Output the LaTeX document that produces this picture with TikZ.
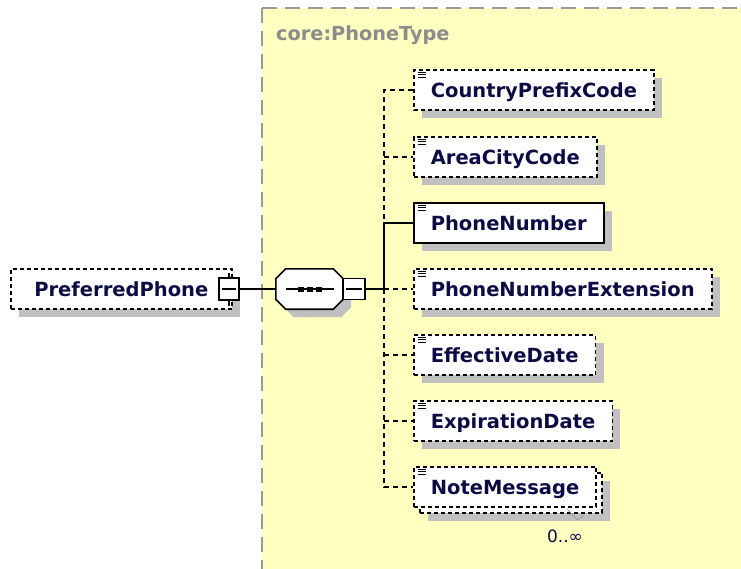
\documentclass[tikz,border=0pt]{standalone}
\usepackage{fontspec}
\usepackage{tikz}
\usetikzlibrary{shadows}
\newfontfamily\diagfont{DejaVu Sans}
\definecolor{panelfill}{HTML}{FFFFC0}
\definecolor{panelline}{HTML}{9A9A9A}
\definecolor{panellabel}{HTML}{8C8C8C}
\definecolor{shadowgray}{HTML}{C0C0C0}
\definecolor{elemtext}{HTML}{0C0C45}

\begin{document}
\begin{tikzpicture}[
  x=1pt, y=-1pt,
  elem/.style={draw, fill=white, anchor=west, line width=1.6pt, minimum height=40pt,
    inner xsep=17pt, text height=14pt, text depth=0pt, text=elemtext,
    font=\diagfont\bfseries\fontsize{19.5}{22}\selectfont},
  shadowed/.style={general shadow={fill=shadowgray, shadow xshift=8pt, shadow yshift=-8pt}},
  stacked/.style={general shadow={fill=shadowgray, shadow xshift=14pt, shadow yshift=-14pt},
    general shadow={draw=black, fill=white, dash pattern=on 4pt off 3pt, shadow xshift=6pt, shadow yshift=-6pt}},
  optional/.style={dash pattern=on 4pt off 3pt},
  link/.style={line width=1.6pt},
  optlink/.style={line width=1.6pt, dash pattern=on 5pt off 4pt},
  minusbox/.style={draw, fill=white, line width=1.6pt, minimum width=20pt, minimum height=22pt, inner sep=0pt}
]
  \useasboundingbox (0,0) rectangle (741,568);

  % Type panel
  \fill[panelfill] (262,8) rectangle (745,572);
  \draw[panelline, line width=1.8pt, dash pattern=on 15pt off 8pt] (262,8) -- (745,8) (262,8) -- (262,572);
  \node[anchor=base west, inner sep=0pt, text=panellabel, font=\diagfont\bfseries\fontsize{19.3}{22}\selectfont]
    (ptype) at (276,40) {core:PhoneType};

  % PreferredPhone
  \node[elem, optional, shadowed, minimum width=221pt] (pref) at (10,289) {PreferredPhone};
  \node[minusbox] (prefminus) at (229,289) {};
  \draw[link] ([xshift=4pt]prefminus.west) -- ([xshift=-4pt]prefminus.east);
  \draw[link] (prefminus.north) -- ++(0,-4) (prefminus.south) -- ++(0,5);

  % Sequence
  \node[minimum width=67pt, minimum height=40pt, inner sep=0pt] (seq) at (309.5,289) {};
  \draw[link, fill=white, shadowed]
    ([shift={(10,0)}]seq.north west) -- ([shift={(-10,0)}]seq.north east)
    -- ([shift={(0,10)}]seq.north east) -- ([shift={(0,-10)}]seq.south east)
    -- ([shift={(-10,0)}]seq.south east) -- ([shift={(10,0)}]seq.south west)
    -- ([shift={(0,-10)}]seq.south west) -- ([shift={(0,10)}]seq.north west) -- cycle;
  \draw[link] ([xshift=10pt]seq.west) -- ([xshift=-9pt]seq.east);
  \foreach \dx in {-9,0,9}
    \fill ([xshift=\dx pt]seq.center) +(-3,-2.5) rectangle +(3,2.5);
  \node[minusbox, minimum width=22pt, minimum height=21pt] (seqminus) at (354,289) {};
  \draw[link] ([xshift=4pt]seqminus.west) -- ([xshift=-4pt]seqminus.east);
  \draw[link] (prefminus.east) -- (seq.west);

  % Children
  \node[elem, optional, shadowed] (cpc) at (413,90) {CountryPrefixCode};
  \node[elem, optional, shadowed] (acc) at (413,157) {AreaCityCode};
  \node[elem, shadowed] (pn) at (413,223) {PhoneNumber};
  \node[elem, optional, shadowed] (pne) at (413,289) {PhoneNumberExtension};
  \node[elem, optional, shadowed] (eff) at (413,355) {EffectiveDate};
  \node[elem, optional, shadowed] (exp) at (413,421) {ExpirationDate};
  \node[elem, optional, stacked] (note) at (413,487) {NoteMessage};
  \node[anchor=base, inner sep=0pt, text=elemtext, font=\diagfont\fontsize{17}{20}\selectfont]
    (notemult) at (565,542) {0..∞};
  \draw[panelline, line width=0.8pt] ([shift={(-30,1)}]note.south east) -- ++(10,11) -- ++(7,-4);

  % Icons
  \foreach \n in {cpc,acc,pn,pne,eff,exp,note}
    \draw[line width=0.9pt] ([shift={(5,3)}]\n.north west) -- ++(8,0)
      ([shift={(5,5.5)}]\n.north west) -- ++(8,0)
      ([shift={(5,8)}]\n.north west) -- ++(8,0);

  % Connectors
  \coordinate (spine) at (384,289);
  \draw[link] (seqminus.east) -- (spine);
  \draw[optlink] (cpc.west) -| (spine |- pn.west);
  \draw[link] (pn.west) -| (spine);
  \draw[optlink] (spine) |- (note.west);
  \foreach \n in {acc,pne,eff,exp}
    \draw[optlink] (spine |- \n.west) -- (\n.west);
\end{tikzpicture}
\end{document}
